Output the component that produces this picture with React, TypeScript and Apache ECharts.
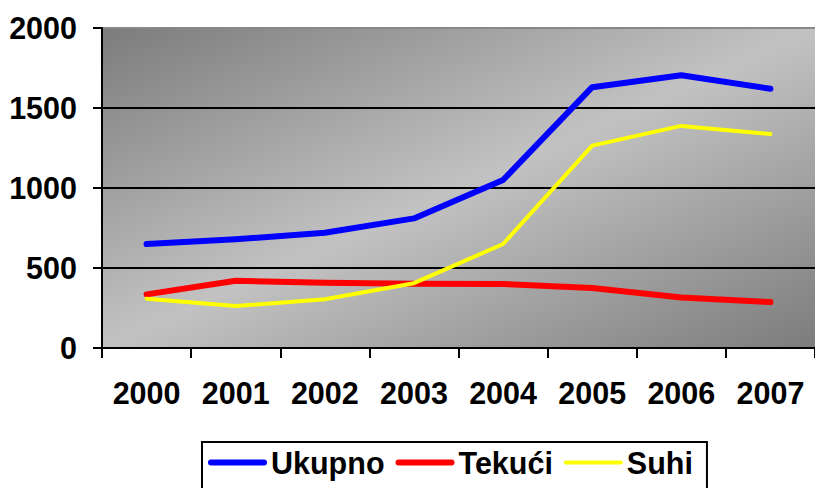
import React, { useEffect, useRef } from "react";
import * as echarts from "echarts";

const years = ["2000", "2001", "2002", "2003", "2004", "2005", "2006", "2007"];
const ukupno = [650, 680, 720, 810, 1050, 1630, 1705, 1620];
const tekuci = [335, 420, 408, 402, 400, 375, 315, 287];
const suhi = [308, 262, 305, 405, 650, 1265, 1388, 1337];

const FONT = "'Liberation Sans', Arial, sans-serif";
const thickIcon = "path://M3,0 L56,0 A3,3 0 0 1 56,6 L3,6 A3,3 0 0 1 3,0 Z";
const thinIcon = "path://M2,0 L57,0 A2,2 0 0 1 57,4 L2,4 A2,2 0 0 1 2,0 Z";

export default function App() {
  const ref = useRef<HTMLDivElement>(null);
  useEffect(() => {
    document.body.style.margin = "0";
    const chart = echarts.init(ref.current!, null, { renderer: "svg" });
    chart.setOption({
      animation: false,
      grid: {
        left: 102,
        top: 28,
        width: 718,
        height: 320,
        show: true,
        borderWidth: 0,
        backgroundColor: new echarts.graphic.LinearGradient(0, 0, 1, 1, [
          { offset: 0, color: "#7c7c7c" },
          { offset: 0.5, color: "#c2c2c2" },
          { offset: 1, color: "#7c7c7c" },
        ]),
      },
      xAxis: {
        type: "category",
        data: years,
        boundaryGap: true,
        axisLine: { lineStyle: { color: "#000", width: 2 } },
        axisTick: { show: true, interval: 0, length: 10, lineStyle: { color: "#000", width: 2 } },
        axisLabel: {
          interval: 0,
          hideOverlap: false,
          color: "#000",
          fontFamily: FONT,
          fontWeight: "bold",
          fontSize: 30.5,
          margin: 29,
        },
      },
      yAxis: {
        type: "value",
        min: 0,
        max: 2000,
        interval: 500,
        axisLine: { show: true, lineStyle: { color: "#000", width: 2 } },
        axisTick: { show: true, length: 9, lineStyle: { color: "#000", width: 2 } },
        axisLabel: {
          color: "#000",
          fontFamily: FONT,
          fontWeight: "bold",
          fontSize: 30.5,
          margin: 25,
          formatter: (v: number) => String(v),
        },
        splitLine: {
          show: true,
          lineStyle: { color: ["#000", "#000", "#000", "#000", "#888"], width: 2 },
        },
      },
      legend: {
        data: [
          { name: "Ukupno", icon: thickIcon },
          { name: "Tekući", icon: thickIcon },
          { name: "Suhi", icon: thinIcon },
        ],
        left: 202,
        top: 442,
        padding: [5, 14, 16, 6],
        itemGap: 11,
        itemWidth: 59,
        itemHeight: 14,
        borderColor: "#000",
        borderWidth: 2,
        backgroundColor: "#fff",
        textStyle: { color: "#000", fontFamily: FONT, fontWeight: "bold", fontSize: 30.5, padding: [0, 0, 0, -1] },
      },
      series: [
        {
          name: "Ukupno",
          type: "line",
          data: ukupno,
          symbol: "none",
          lineStyle: { color: "#0000ff", width: 6, cap: "round", join: "round" },
          itemStyle: { color: "#0000ff" },
        },
        {
          name: "Tekući",
          type: "line",
          data: tekuci,
          symbol: "none",
          lineStyle: { color: "#ff0000", width: 6, cap: "round", join: "round" },
          itemStyle: { color: "#ff0000" },
        },
        {
          name: "Suhi",
          type: "line",
          data: suhi,
          symbol: "none",
          lineStyle: { color: "#ffff00", width: 4, cap: "round", join: "round" },
          itemStyle: { color: "#ffff00" },
        },
      ],
    });
    return () => chart.dispose();
  }, []);
  return <div ref={ref} style={{ width: 815, height: 488 }} />;
}
